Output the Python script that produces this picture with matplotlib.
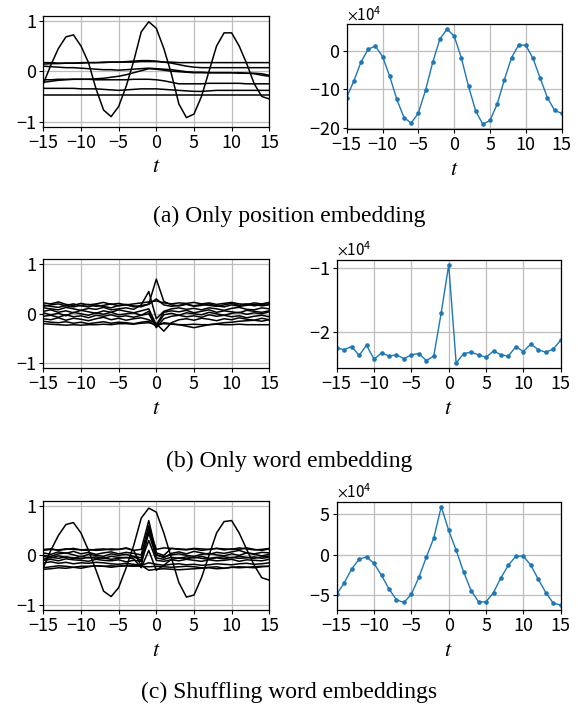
import matplotlib
matplotlib.use("Agg")
import matplotlib.pyplot as plt
from matplotlib.ticker import MultipleLocator
import numpy as np

plt.rcParams['font.family'] = ['Noto Sans CJK JP', 'DejaVu Sans']
plt.rcParams['mathtext.fontset'] = 'stix'
plt.rcParams['axes.unicode_minus'] = True

t = list(range(-15, 16))

# ---------------- (a) Only position embedding ----------------
a_big = [-0.25, 0.12, 0.45, 0.68, 0.72, 0.50, 0.17, -0.35, -0.77, -0.90, -0.70, -0.30, 0.20, 0.78, 0.98, 0.85,
         0.45, -0.05, -0.65, -0.92, -0.85, -0.50, 0.00, 0.50, 0.76, 0.76, 0.50, 0.15, -0.25, -0.50, -0.55]
a_flat1 = [0.17, 0.17, 0.16, 0.16, 0.16, 0.16, 0.17, 0.17, 0.17, 0.18, 0.18, 0.18, 0.18, 0.19, 0.19, 0.19,
           0.18, 0.18, 0.17, 0.17, 0.17, 0.17, 0.17, 0.17, 0.17, 0.17, 0.17, 0.17, 0.17, 0.17, 0.17]
a_flat2 = [0.14, 0.15, 0.15, 0.16, 0.16, 0.17, 0.17, 0.17, 0.18, 0.18, 0.18, 0.19, 0.20, 0.21, 0.21, 0.20,
           0.18, 0.16, 0.13, 0.10, 0.08, 0.07, 0.07, 0.07, 0.07, 0.07, 0.07, 0.07, 0.07, 0.07, 0.07]
a_flat3 = [0.10, 0.09, 0.08, 0.07, 0.07, 0.06, 0.05, 0.04, 0.03, 0.03, 0.02, 0.03, 0.04, 0.05, 0.06, 0.05,
           0.04, 0.03, 0.01, -0.01, -0.02, -0.02, -0.03, -0.03, -0.03, -0.03, -0.04, -0.04, -0.05, -0.08, -0.10]
a_flat4 = [-0.22, -0.20, -0.18, -0.17, -0.16, -0.16, -0.16, -0.15, -0.14, -0.12, -0.10, -0.07, -0.03, 0.01, 0.05, 0.04,
           0.02, 0.00, -0.01, -0.02, -0.03, -0.03, -0.03, -0.03, -0.03, -0.03, -0.03, -0.04, -0.04, -0.05, -0.08]
a_flat5 = [-0.17, -0.17, -0.16, -0.16, -0.16, -0.16, -0.16, -0.17, -0.17, -0.17, -0.17, -0.17, -0.16, -0.16, -0.16, -0.17,
           -0.19, -0.22, -0.25, -0.25, -0.25, -0.25, -0.24, -0.24, -0.24, -0.24, -0.24, -0.25, -0.25, -0.25, -0.25]
a_flat6 = [-0.34, -0.34, -0.34, -0.34, -0.34, -0.35, -0.35, -0.35, -0.36, -0.37, -0.38, -0.37, -0.36, -0.35, -0.35, -0.35,
           -0.36, -0.37, -0.38, -0.39, -0.40, -0.40, -0.39, -0.38, -0.38, -0.38, -0.38, -0.38, -0.38, -0.38, -0.38]
a_flat7 = [-0.47, -0.47, -0.47, -0.47, -0.47, -0.47, -0.47, -0.47, -0.47, -0.47, -0.47, -0.47, -0.47, -0.47, -0.47, -0.47,
           -0.47, -0.47, -0.47, -0.47, -0.47, -0.47, -0.47, -0.47, -0.47, -0.47, -0.47, -0.47, -0.47, -0.47, -0.47]
a_sum = [-12.1, -7.8, -2.9, 0.4, 1.2, -1.5, -6.6, -12.6, -17.3, -18.7, -16.1, -10.2, -3.0, 3.0, 5.6, 3.8,
         -1.9, -9.2, -15.6, -19.0, -18.0, -13.8, -7.5, -1.8, 1.5, 1.4, -2.0, -7.1, -12.1, -15.4, -16.2]

# ---------------- (b) Only word embedding ----------------
b1 = [0.22, 0.20, 0.24, 0.19, 0.17, 0.21, 0.18, 0.20, 0.23, 0.19, 0.21, 0.18, 0.20, 0.22, 0.24, 0.26,
      0.22, 0.20, 0.22, 0.21, 0.23, 0.20, 0.22, 0.19, 0.21, 0.23, 0.20, 0.19, 0.22, 0.20, 0.23]
b2 = [0.18, 0.15, 0.13, 0.17, 0.20, 0.16, 0.14, 0.18, 0.15, 0.12, 0.17, 0.19, 0.16, 0.14, 0.20, 0.70,
      0.25, 0.18, 0.16, 0.19, 0.15, 0.17, 0.20, 0.16, 0.14, 0.18, 0.15, 0.17, 0.19, 0.16, 0.18]
b3 = [0.12, 0.10, 0.08, 0.13, 0.10, 0.07, 0.11, 0.09, 0.13, 0.08, 0.10, 0.12, 0.09, 0.18, 0.45, -0.10,
      0.05, 0.10, 0.12, 0.09, 0.11, 0.08, 0.12, 0.10, 0.07, 0.11, 0.13, 0.09, 0.08, 0.12, 0.10]
b4 = [0.05, 0.08, 0.03, 0.06, 0.02, 0.07, 0.04, 0.01, 0.06, 0.03, 0.08, 0.05, 0.02, 0.06, 0.10, -0.22,
      0.03, 0.06, 0.04, 0.07, 0.02, 0.05, 0.08, 0.03, 0.06, 0.04, 0.02, 0.07, 0.05, 0.03, 0.06]
b5 = [0.02, -0.02, 0.01, -0.04, 0.03, 0.00, -0.03, 0.02, -0.01, 0.03, -0.02, 0.00, 0.02, -0.03, 0.05, -0.25,
      -0.02, 0.01, -0.03, 0.02, 0.00, -0.02, 0.03, 0.00, -0.03, 0.01, 0.03, -0.01, 0.02, 0.00, 0.04]
b6 = [-0.05, -0.03, -0.07, -0.02, -0.06, -0.04, -0.08, -0.03, -0.05, -0.02, -0.06, -0.04, -0.07, -0.03, 0.00, -0.28,
      -0.10, -0.05, -0.03, -0.06, -0.04, -0.07, -0.02, -0.05, -0.03, -0.06, -0.04, -0.08, -0.05, -0.03, -0.06]
b7 = [-0.10, -0.12, -0.08, -0.13, -0.09, -0.11, -0.14, -0.10, -0.07, -0.12, -0.09, -0.13, -0.10, -0.08, -0.12, -0.20,
      -0.35, -0.18, -0.12, -0.10, -0.13, -0.09, -0.11, -0.14, -0.10, -0.12, -0.08, -0.11, -0.13, -0.09, -0.12]
b8 = [-0.15, -0.17, -0.18, -0.16, -0.19, -0.17, -0.20, -0.18, -0.16, -0.19, -0.17, -0.18, -0.20, -0.17, -0.15, -0.25,
      -0.18, -0.20, -0.22, -0.25, -0.28, -0.25, -0.22, -0.20, -0.18, -0.17, -0.15, -0.14, -0.13, -0.15, -0.12]
b9 = [-0.20, -0.21, -0.22, -0.23, -0.22, -0.23, -0.22, -0.22, -0.21, -0.22, -0.20, -0.20, -0.21, -0.19, -0.18, -0.22,
      -0.20, -0.21, -0.22, -0.22, -0.21, -0.22, -0.22, -0.21, -0.22, -0.22, -0.21, -0.22, -0.22, -0.22, -0.22]
b10 = [0.15, 0.18, 0.20, 0.16, 0.14, 0.17, 0.19, 0.15, 0.17, 0.20, 0.16, 0.18, 0.14, 0.17, 0.19, 0.30,
       0.18, 0.15, 0.17, 0.20, 0.16, 0.19, 0.17, 0.15, 0.18, 0.21, 0.17, 0.20, 0.16, 0.19, 0.20]
b_sum = [-2.25, -2.28, -2.23, -2.37, -2.21, -2.43, -2.33, -2.38, -2.36, -2.42, -2.36, -2.34, -2.45, -2.38, -1.70, -0.95,
         -2.49, -2.34, -2.32, -2.36, -2.40, -2.30, -2.36, -2.38, -2.23, -2.31, -2.19, -2.28, -2.32, -2.27, -2.13]

# ---------------- (c) Shuffling word embeddings ----------------
c_big = [-0.25, 0.10, 0.40, 0.62, 0.66, 0.45, 0.10, -0.30, -0.72, -0.83, -0.65, -0.25, 0.20, 0.75, 0.95, 0.87,
         0.45, -0.05, -0.55, -0.84, -0.80, -0.45, 0.00, 0.45, 0.68, 0.70, 0.45, 0.12, -0.20, -0.45, -0.50]
c1 = [0.12, 0.13, 0.10, 0.12, 0.14, 0.11, 0.12, 0.10, 0.11, 0.13, 0.12, 0.15, 0.10, 0.12, 0.70, 0.05,
      0.00, 0.14, 0.12, 0.11, 0.13, 0.10, 0.12, 0.14, 0.11, 0.13, 0.12, 0.15, 0.12, 0.10, 0.13]
c2 = [0.05, 0.02, 0.07, 0.04, 0.08, 0.03, 0.06, 0.02, 0.05, 0.07, 0.03, 0.06, 0.04, 0.01, 0.60, 0.02,
      -0.05, 0.04, 0.07, 0.03, 0.08, 0.05, 0.02, 0.06, 0.04, 0.07, 0.10, 0.05, 0.03, 0.06, 0.05]
c3 = [0.00, -0.02, 0.03, 0.05, 0.01, -0.03, 0.02, 0.00, -0.02, 0.03, 0.00, 0.02, -0.02, -0.05, 0.50, 0.00,
      -0.03, 0.01, 0.03, 0.00, -0.02, 0.02, 0.04, 0.01, -0.01, 0.03, 0.00, 0.05, 0.02, -0.01, 0.02]
c4 = [-0.02, -0.05, -0.01, -0.04, -0.06, -0.02, -0.05, -0.03, -0.06, -0.02, -0.04, -0.05, -0.03, -0.10, 0.45, -0.05,
      -0.08, -0.04, -0.06, -0.03, -0.05, -0.02, -0.06, -0.04, -0.03, -0.05, -0.02, -0.04, -0.06, -0.03, -0.02]
c5 = [-0.08, -0.04, -0.06, -0.03, -0.05, -0.07, -0.04, -0.06, -0.05, -0.08, -0.06, -0.04, -0.07, -0.25, 0.10, -0.30,
      -0.20, -0.08, -0.05, -0.07, -0.04, -0.06, -0.08, -0.05, -0.07, -0.04, -0.06, -0.05, -0.03, -0.06, -0.04]
c6 = [-0.10, -0.08, -0.11, -0.07, -0.09, -0.10, -0.12, -0.08, -0.10, -0.11, -0.09, -0.13, -0.10, -0.12, 0.30, -0.10,
      -0.12, -0.09, -0.11, -0.08, -0.10, -0.12, -0.09, -0.11, -0.10, -0.08, -0.12, -0.09, -0.10, -0.11, -0.08]
c7 = [0.10, 0.12, 0.11, 0.13, 0.12, 0.11, 0.10, 0.12, 0.13, 0.11, 0.12, 0.14, 0.10, -0.22, 0.55, 0.12,
      0.15, 0.14, 0.13, 0.12, 0.14, 0.13, 0.12, 0.14, 0.13, 0.12, 0.15, 0.13, 0.11, 0.12, 0.14]
c8 = [-0.15, -0.13, -0.16, -0.14, -0.17, -0.15, -0.16, -0.14, -0.15, -0.17, -0.18, -0.16, -0.18, -0.20, -0.15, -0.18,
      -0.20, -0.18, -0.17, -0.19, -0.18, -0.20, -0.19, -0.17, -0.18, -0.19, -0.17, -0.16, -0.18, -0.17, -0.15]
c9 = [-0.25, -0.23, -0.21, -0.22, -0.24, -0.26, -0.23, -0.21, -0.22, -0.24, -0.22, -0.20, -0.21, -0.22, -0.23, -0.22,
      -0.23, -0.24, -0.23, -0.22, -0.23, -0.25, -0.24, -0.23, -0.26, -0.24, -0.23, -0.24, -0.25, -0.23, -0.22]
c10 = [-0.28, -0.27, -0.25, -0.26, -0.24, -0.22, -0.22, -0.21, -0.22, -0.21, -0.22, -0.21, -0.22, -0.20, -0.30, -0.28,
       -0.27, -0.28, -0.29, -0.28, -0.27, -0.26, -0.25, -0.27, -0.26, -0.24, -0.25, -0.24, -0.23, -0.22, -0.22]
c_sum = [-4.86, -3.47, -1.76, -0.53, -0.24, -1.06, -2.53, -4.20, -5.55, -5.88, -4.86, -2.78, -0.29, 2.08, 5.96, 3.02,
         0.57, -2.12, -4.41, -5.80, -5.80, -4.65, -2.82, -1.27, -0.16, -0.16, -1.27, -3.02, -4.65, -5.96, -6.20]

xticks = [-15, -10, -5, 0, 5, 10, 15]
left_yticks = [-1, 0, 1]
captions = ["(a) Only position embedding", "(b) Only word embedding", "(c) Shuffling word embeddings"]

W, H = 578, 711
fig = plt.figure(figsize=(W / 100, H / 100), dpi=100)


def rect(x0, y0, x1, y1):
    return [x0 / W, 1 - y1 / H, (x1 - x0) / W, (y1 - y0) / H]


TICK_FS = 13
GRID_C = '#bdbdbd'


def style(ax):
    ax.grid(True, color=GRID_C, linewidth=0.9)
    ax.set_axisbelow(True)
    ax.set_xlim(-15, 15)
    ax.set_xticks(xticks)
    ax.tick_params(labelsize=TICK_FS, length=3, width=0.8, pad=2)
    for s in ax.spines.values():
        s.set_linewidth(0.9)
    ax.set_xlabel('$t$', fontsize=16, labelpad=2)


def left_panel(ax, lines):
    for ln in lines:
        ax.plot(t, ln, color='black', linewidth=1.1)
    ax.set_ylim(-1.1, 1.1)
    ax.set_yticks(left_yticks)
    style(ax)


def right_panel(ax, vals, step):
    ax.plot(t, [v * 1e4 for v in vals], color='#1f77b4', linewidth=1.0, marker='o', markersize=2.3)
    style(ax)
    ax.yaxis.set_major_locator(MultipleLocator(step * 1e4))
    ax.ticklabel_format(axis='y', style='sci', scilimits=(4, 4), useMathText=True)
    ax.yaxis.get_offset_text().set_fontsize(11)


# panel a
axa1 = fig.add_axes(rect(43.3, 15.7, 269.3, 126.7))
left_panel(axa1, [a_flat1, a_flat2, a_flat3, a_flat4, a_flat5, a_flat6, a_flat7, a_big])
axa2 = fig.add_axes(rect(346.7, 24.3, 561.7, 129.0))
right_panel(axa2, a_sum, 10)

# panel b
axb1 = fig.add_axes(rect(43.3, 259.3, 269.3, 368.3))
left_panel(axb1, [b1, b2, b3, b4, b5, b6, b7, b8, b9, b10])
axb2 = fig.add_axes(rect(336.7, 260.0, 560.7, 368.0))
right_panel(axb2, b_sum, 1)

# panel c
axc1 = fig.add_axes(rect(43.3, 500.7, 269.3, 610.0))
left_panel(axc1, [c1, c2, c3, c4, c5, c6, c7, c8, c9, c10, c_big])
axc2 = fig.add_axes(rect(336.7, 501.7, 560.7, 610.0))
right_panel(axc2, c_sum, 5)

for cap, yc in zip(captions, [216, 461, 692]):
    fig.text(0.5, 1 - yc / H, cap, ha='center', va='center', fontsize=17,
             family=['Liberation Serif', 'DejaVu Serif'])

fig.savefig('out.png', dpi=100)
